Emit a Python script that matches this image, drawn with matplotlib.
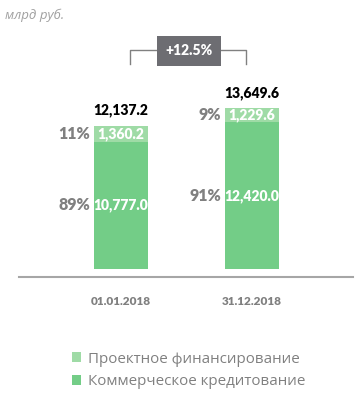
import matplotlib.pyplot as plt
import numpy as np

# ---------------------------------------------------------------------------
# Data (млрд руб.)
# ---------------------------------------------------------------------------
dates = ["01.01.2018", "31.12.2018"]
commercial = [10777.0, 12420.0]   # Коммерческое кредитование
project = [1360.2, 1229.6]        # Проектное финансирование
totals = [12137.2, 13649.6]
commercial_share = ["89%", "91%"]
project_share = ["11%", "9%"]
growth_label = "+12.5%"

LIGHT = "#9fdba6"
DARK = "#73cd87"
GREY = "#808080"
BOX = "#6d6d72"

plt.rcParams["font.family"] = ["Lato", "DejaVu Sans"]

W, H = 361, 397
fig = plt.figure(figsize=(W / 100, H / 100), dpi=100)
# axes spans x 19..353 px, y 30..277 px (from top)
ax = fig.add_axes([19 / W, (H - 277) / H, (353 - 19) / W, (277 - 30) / H])

x = np.arange(len(dates))
width = 0.41
b1 = ax.bar(x, commercial, width, color=DARK, label="Коммерческое кредитование")
b2 = ax.bar(x, project, width, bottom=commercial, color=LIGHT,
            label="Проектное финансирование")

ax.set_xlim(-0.78, 1.77)
ax.set_ylim(-680, 20250)

# values inside segments
ax.bar_label(b1, fmt="{:,.1f}", label_type="center", color="white",
             fontweight="heavy", fontsize=10)
ax.bar_label(b2, fmt="{:,.1f}", label_type="center", color="white",
             fontweight="heavy", fontsize=10)
# totals above
ax.bar_label(b2, labels=[f"{t:,.1f}" for t in totals], padding=6,
             color="black", fontweight="heavy", fontsize=10)

# shares to the left of each segment
for i in range(len(dates)):
    left = x[i] - width / 2
    ax.annotate(commercial_share[i], (left, commercial[i] / 2),
                xytext=(-3, 0), textcoords="offset points",
                ha="right", va="center", color=GREY, fontweight="heavy",
                fontsize=11.5)
    ax.annotate(project_share[i], (left, commercial[i] + project[i] / 2),
                xytext=(-3, 0), textcoords="offset points",
                ha="right", va="center", color=GREY, fontweight="heavy",
                fontsize=11.5)

# growth bracket
tr = ax.get_xaxis_transform()
ax.plot([x[0] + 0.07, x[0] + 0.07, x[1] - 0.05, x[1] - 0.05],
        [0.862, 0.919, 0.919, 0.862], transform=tr, color=GREY, lw=1,
        clip_on=False)
ax.text((x[0] + x[1]) / 2 + 0.015, 0.915, growth_label, transform=tr,
        ha="center", va="center", color="white", fontweight="heavy",
        fontsize=10,
        bbox=dict(boxstyle="square,pad=0.6", fc=BOX, ec="none"))

ax.set_xticks(x)
ax.set_xticklabels(dates, color=GREY, fontweight="heavy", fontsize=8.5)
ax.tick_params(axis="x", length=0, pad=14)
ax.set_yticks([])
for s in ["top", "left", "right"]:
    ax.spines[s].set_visible(False)
ax.spines["bottom"].set_color("#a6a6a6")
ax.spines["bottom"].set_linewidth(1.5)

fig.text(5 / W, 1 - 15 / H, "млрд руб.", style="italic", color="#a0a0a0",
         fontsize=9.5, va="center", family=["Open Sans", "DejaVu Sans"])

handles = [b2, b1]
fig.legend(handles, [h.get_label() for h in handles], loc="upper left",
           bbox_to_anchor=(58 / W, 1 - 338 / H), frameon=False,
           prop={"family": ["Open Sans", "DejaVu Sans"], "size": 10.9},
           labelcolor=GREY, handlelength=0.6, handleheight=0.6,
           handletextpad=0.5, labelspacing=0.5)

fig.savefig("out.png", dpi=100)
